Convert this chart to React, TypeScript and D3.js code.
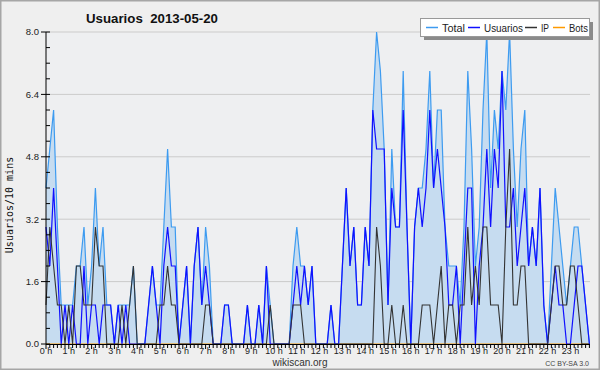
import React from "react";
import * as d3 from "d3";

const hourLabels = ["0 h","1 h","2 h","3 h","4 h","5 h","6 h","7 h","8 h","9 h","10 h","11 h","12 h","13 h","14 h","15 h","16 h","17 h","18 h","19 h","20 h","21 h","22 h","23 h"];
const yTicks = [0, 1.6, 3.2, 4.8, 6.4, 8.0];

// 10-minute slots, 144 per day
const total = [
  4,5,6,3,1,1,1,1,2,2,3,1,2,4,2,3,1,1,0,1,1,1,1,2,
  0,0,0,1,2,1,1,3,5,3,3,0,1,2,0,2,3,1,3,2,0,0,0,1,
  1,0,0,0,0,1,0,0,1,0,2,1,0,0,0,0,0,2,3,2,2,1,2,0,
  0,0,0,1,0,0,2,4,2,3,1,1,3,2,6,8,7,5,1,5,3,3,7,3,
  0,3,4,4,5,7,4,6,6,3,2,2,2,1,3,7,5,2,3,6,8,4,6,5,
  7,6,8,5,3,5,6,2,3,2,4,1,0,2,4,3,2,1,2,3,3,2,1,0
];
const usuarios = [
  3,2,4,2,0,1,0,1,0,0,2,0,1,1,0,1,1,1,0,1,0,1,0,0,
  0,0,0,1,2,1,0,2,3,2,2,0,1,2,0,2,3,1,2,1,0,0,0,1,
  1,0,0,0,0,1,0,0,1,0,2,0,0,0,0,0,0,1,2,1,2,1,2,0,
  0,0,0,1,0,0,2,4,2,3,1,1,3,2,6,5,5,5,1,4,3,3,6,3,
  0,3,4,3,4,6,4,5,4,3,1,1,2,0,2,4,4,0,2,3,5,3,5,4,
  7,3,3,4,2,3,4,2,3,2,4,1,0,1,2,1,1,0,0,1,2,2,1,0
];
const ip = [
  1,3,2,1,1,0,1,0,2,2,1,1,1,3,2,2,0,0,0,0,1,0,1,2,
  0,0,0,0,0,0,1,1,2,1,1,0,0,0,0,0,0,0,1,1,0,0,0,0,
  0,0,0,0,0,0,0,0,0,0,0,1,0,0,0,0,0,1,1,1,0,0,0,0,
  0,0,0,0,0,0,0,0,0,0,0,0,0,0,0,3,2,0,0,1,0,0,1,0,
  0,0,0,1,1,1,0,1,2,0,1,1,0,1,1,3,1,2,1,3,3,1,1,1,
  0,3,5,1,1,2,2,0,0,0,0,0,0,1,2,2,1,1,2,2,1,0,0,0
];
const bots = [
  0,0,0,0,0,0,0,0,0,0,0,0,0,0,0,0,0,0,0,0,0,0,0,0,
  0,0,0,0,0,0,0,0,0,0,0,0,0,0,0,0,0,0,0,0,0,0,0,0,
  0,0,0,0,0,0,0,0,0,0,0,0,0,0,0,0,0,0,0,0,0,0,0,0,
  0,0,0,0,0,0,0,0,0,0,0,0,0,0,0,0,0,0,0,0,0,0,0,0,
  0,0,0,0,0,0,0,0,0,0,0,0,0,0,0,0,0,0,0,0,0,0,0,0,
  0,0,0,0,0,0,0,0,0,0,0,0,0,0,0,0,0,0,0,0,0,0,0,0
];

const legendItems = [
  { name: "Total", color: "#3d9bf0" },
  { name: "Usuarios", color: "#1010ff" },
  { name: "IP", color: "#333333" },
  { name: "Bots", color: "#ff9a00" },
];

export default function App() {
  const W = 600, H = 370;
  const left = 46, right = 590, top = 32, bottom = 344;
  const x = d3.scaleLinear().domain([0, 143]).range([left, 589.4]);
  const y = d3.scaleLinear().domain([0, 8]).range([bottom, top]);
  const mk = (arr: number[]) =>
    d3.line<number>().x((_, i) => x(i)).y((d) => y(d))(arr) || "";
  const areaPath =
    d3.area<number>().x((_, i) => x(i)).y0(y(0)).y1((d) => y(d))(total) || "";
  const minorY = d3.range(0, 8.01, 0.4);
  const xTickIdx = d3.range(0, 144);
  const font = "'Liberation Sans', 'DejaVu Sans', sans-serif";
  const legX = [426, 468, 525, 553];
  const legW = [23, 39, 8, 19];

  return (
    <svg width={W} height={H} style={{ position: "absolute", left: 0, top: 0 }}
      xmlns="http://www.w3.org/2000/svg">
      <rect x={0.75} y={0.75} width={W - 1.5} height={H - 1.5} fill="#efefef" stroke="#a6a6a6" strokeWidth={1.5} />
      <rect x={left} y={top} width={right - left} height={bottom - top} fill="#eeeff1" />
      {yTicks.map((t) => (
        <line key={"g" + t} x1={left} x2={right} y1={y(t)} y2={y(t)} stroke="#cbcbcb" strokeWidth={1} />
      ))}
      <path d={areaPath} fill="#c6dcf0" />
      <path d={mk(bots)} fill="none" stroke="#ff9a00" strokeWidth={1.2} />
      <path d={mk(total)} fill="none" stroke="#3d9bf0" strokeWidth={1.2} />
      <path d={mk(usuarios)} fill="none" stroke="#1010ff" strokeWidth={1.2} />
      <path d={mk(ip)} fill="none" stroke="#333333" strokeWidth={1.1} />
      {/* axes */}
      <line x1={left} x2={left} y1={top} y2={bottom} stroke="#000" strokeWidth={1} />
      <line x1={left} x2={right} y1={bottom + 0.5} y2={bottom + 0.5} stroke="#000" strokeWidth={1} />
      {minorY.map((t) => (
        <line key={"m" + t} x1={left} x2={left + 4} y1={y(t)} y2={y(t)} stroke="#000" strokeWidth={1} />
      ))}
      {yTicks.map((t) => (
        <g key={"t" + t}>
          <line x1={left - 5} x2={left} y1={y(t)} y2={y(t)} stroke="#000" strokeWidth={1} />
          <text x={left - 7} y={y(t)} dy="0.35em" textAnchor="end" fontFamily={font} fontSize={9.5} fill="#222">
            {t.toFixed(1)}
          </text>
        </g>
      ))}
      {xTickIdx.map((i) => (
        <line key={"x" + i} x1={x(i)} x2={x(i)} y1={bottom} y2={bottom + (i % 6 === 0 ? 5 : 4)} stroke="#000" strokeWidth={1} />
      ))}
      {hourLabels.map((h, k) => (
        <text key={h} x={x(k * 6)} y={bottom + 10} textAnchor="middle" fontFamily={font} fontSize={9} fill="#222">
          {h}
        </text>
      ))}
      <text x={300} y={366} textAnchor="middle" fontFamily={font} fontSize={10} fill="#333">wikiscan.org</text>
      <text x={589} y={366} textAnchor="end" fontFamily={font} fontSize={7} fill="#444">CC BY-SA 3.0</text>
      <text transform={`translate(13,205) rotate(-90)`} textAnchor="middle"
        fontFamily="'DejaVu Sans Mono', monospace" fontSize={10} fill="#111">Usuarios/10 mins</text>
      <text x={86} y={23} fontFamily={font} fontWeight="bold" fontSize={13.5} fill="#111"
        textLength={132} lengthAdjust="spacingAndGlyphs" style={{ whiteSpace: "pre" }}>
        {"Usuarios  2013-05-20"}
      </text>
      {/* legend */}
      <rect x={424} y={22} width={169} height={18} fill="#8a8a8a" />
      <rect x={420.5} y={18.5} width={169} height={18} fill="#fff" stroke="#999" strokeWidth={1} />
      {legendItems.map((it, k) => (
        <g key={it.name}>
          <line x1={legX[k]} x2={legX[k] + 12} y1={27.5} y2={27.5} stroke={it.color} strokeWidth={1.5} />
          <text x={legX[k] + 16} y={28} dy="0.35em" fontFamily={font} fontSize={10.5} fill="#222"
            textLength={legW[k]} lengthAdjust="spacingAndGlyphs">{it.name}</text>
        </g>
      ))}
    </svg>
  );
}
